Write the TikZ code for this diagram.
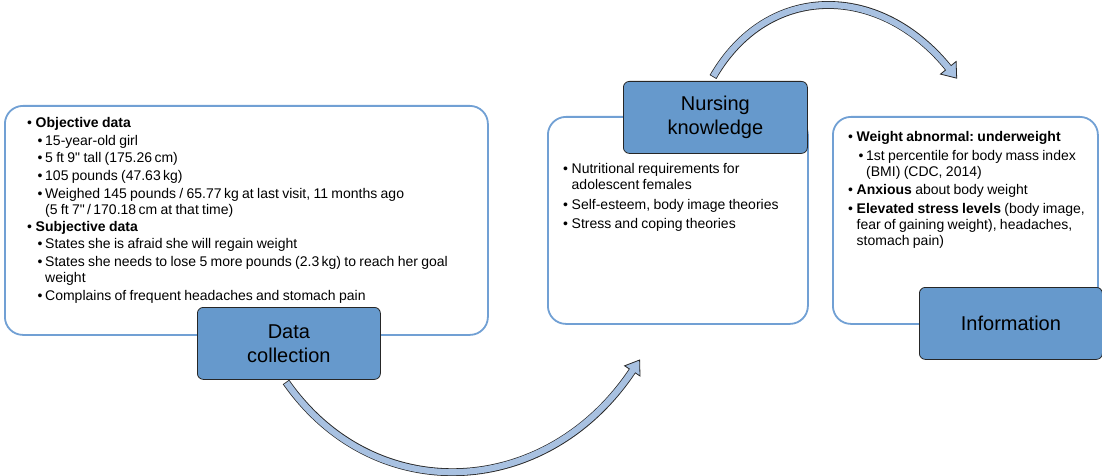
\documentclass[tikz,border=0pt]{standalone}
\usepackage{fontspec}
\setmainfont{Liberation Sans}[Ligatures=TeXOff]
\definecolor{boxline}{RGB}{113,160,212}
\definecolor{boxfill}{RGB}{102,153,204}
\definecolor{arrowfill}{RGB}{168,193,225}
\newcommand\ia[1]{\par\leftskip=8.5pt\noindent\llap{\makebox[8.5pt][l]{\textbullet}}#1}
\newcommand\ib[1]{\par\leftskip=18pt\noindent\llap{\makebox[7.5pt][l]{\textbullet}}#1}
\newcommand\boxtextsetup{\fontsize{14}{16}\selectfont\frenchspacing\rightskip=0pt plus 1fil\relax}
\tikzset{
 obox/.style={draw=boxline, line width=1.8pt, fill=white, rounded corners=18pt, anchor=north west, inner sep=0},
 dbox/.style={draw=black!85, line width=0.8pt, fill=boxfill, rounded corners=6pt, align=center, anchor=north west, font=\fontsize{20}{24}\selectfont, inner sep=0},
 txt/.style={anchor=base west, inner sep=0, text width=#1},
 bandout/.style={draw=black!85, line width=7.8pt},
 bandin/.style={draw=arrowfill, line width=6.2pt},
 head/.style={fill=arrowfill, draw=black!85, line width=0.8pt, line join=miter}
}
\begin{document}
\begin{tikzpicture}[x=1pt,y=-1pt]
\useasboundingbox (0,0) rectangle (1102,476);
% outline boxes
\node[obox, minimum width=483, minimum height=229] (obj) at (4,105) {};
\node[obox, minimum width=260, minimum height=207] (know) at (547,116) {};
\node[obox, minimum width=265, minimum height=207] (info) at (832,116) {};
% bottom arrow
\coordinate (b1) at (286,382);
\coordinate (b2) at (632.3,370.9);
\draw[bandout] (b1) .. controls (374.7,508.6) and (546.7,499.2) .. (b2);
\draw[head] (624.6,365.8) -- (639.6,360) -- (640,376) -- cycle;
\draw[bandin, shorten <=0.8pt, shorten >=-1pt] (b1) .. controls (374.7,508.6) and (546.7,499.2) .. (b2);
% top arrow
\coordinate (t1) at (713,77);
\coordinate (t2) at (948.3,67.8);
\draw[bandout] (t1) .. controls (767.7,-17.7) and (879.5,-17.2) .. (t2);
\draw[head] (956.1,61.5) -- (956.7,78.2) -- (940.5,74.1) -- cycle;
\draw[bandin, shorten <=0.8pt, shorten >=-1pt] (t1) .. controls (767.7,-17.7) and (879.5,-17.2) .. (t2);
% dark boxes
\node[dbox, minimum width=183, minimum height=72] (dc) at (197,307) {Data\\collection};
\node[dbox, minimum width=184, minimum height=72] (nk) at (623,81) {Nursing\\knowledge};
\node[dbox, minimum width=183, minimum height=72] (inf) at (919,287) {Information};
% texts
\node[txt=455pt] (objtxt) at (27,112) {\boxtextsetup
\ia{\textbf{Objective data}}\setlength\parskip{1.5pt}%
\ib{15-year-old girl}%
\ib{5 ft 9" tall (175.26\,cm)}%
\ib{105 pounds (47.63\,kg)}%
\ib{Weighed 145 pounds / 65.77\,kg at last visit, 11 months ago\newline(5 ft 7"\,/\,170.18\,cm at that time)}%
\ia{\textbf{Subjective data}}%
\ib{States she is afraid she will regain weight}%
\ib{States she needs to lose 5 more pounds (2.3\,kg) to reach her goal\newline weight}%
\ib{Complains of frequent headaches and stomach pain}\par};
\node[txt=240pt] (knowtxt) at (563,157.5) {\boxtextsetup
\ia{Nutritional requirements for\newline adolescent females}\setlength\parskip{3.5pt}%
\ia{Self-esteem, body image theories}%
\ia{Stress and coping theories}\par};
\node[txt=245pt] (infotxt) at (848,125.5) {\boxtextsetup
\ia{\textbf{Weight abnormal: underweight}}\setlength\parskip{2.5pt}%
\ib{1st percentile for body mass index\newline(BMI) (CDC, 2014)}%
\ia{\textbf{Anxious} about body weight}%
\ia{\textbf{Elevated stress levels} (body image,\newline fear of gaining weight), headaches,\newline stomach pain)}\par};
\end{tikzpicture}
\end{document}
